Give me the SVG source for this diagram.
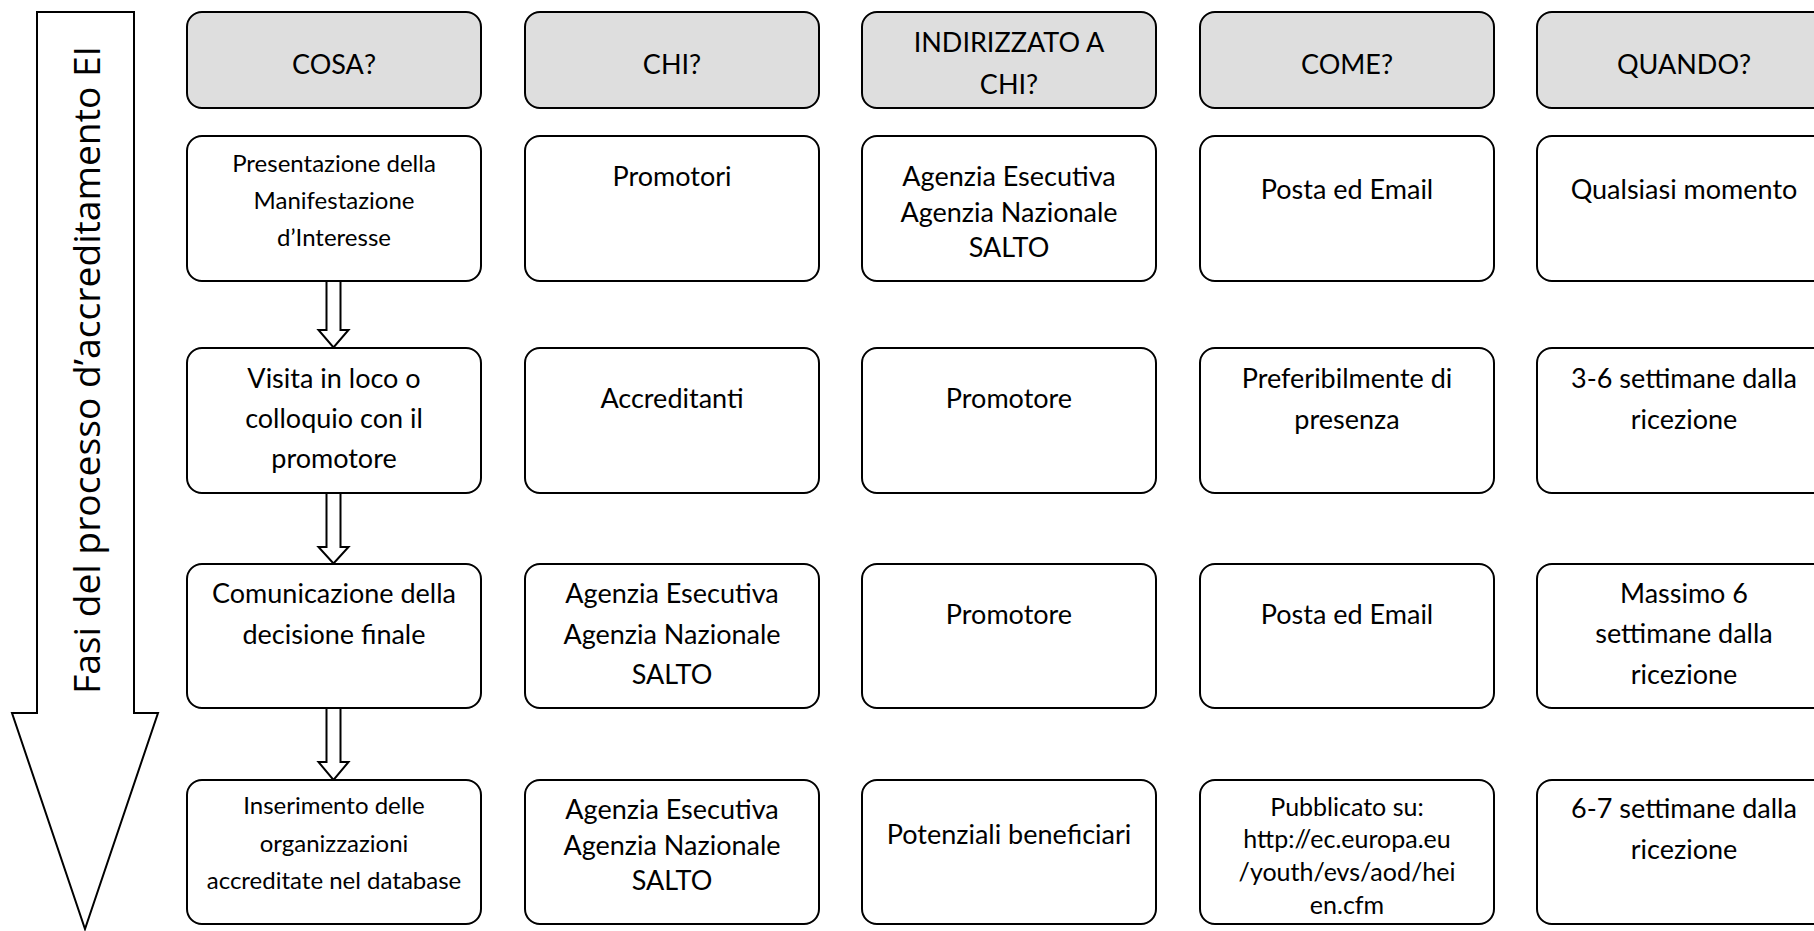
<svg xmlns="http://www.w3.org/2000/svg" width="1814" height="931" viewBox="0 0 1814 931">
<style>
.box{fill:#fff;stroke:#000;stroke-width:2}
.hdr{fill:#dedede;stroke:#000;stroke-width:2}
.t{font-family:Lato,"Open Sans","Liberation Sans",sans-serif;font-size:27px;fill:#000;text-anchor:middle}
.s{font-size:24px}
.u{font-size:25px}
.arr{fill:#fff;stroke:#000;stroke-width:2;stroke-linejoin:miter}
.big{font-family:"Open Sans","Liberation Sans",sans-serif;font-size:37px;fill:#000;text-anchor:middle}
</style>
<rect width="1814" height="931" fill="#fff"/>
<g id="phase-arrow">
<polygon class="arr" points="37,12 134,12 134,713 158,713 85,929 12,713 37,713"/>
<text class="big" transform="translate(100,370) rotate(-90)" textLength="648" lengthAdjust="spacingAndGlyphs">Fasi del processo d’accreditamento EI</text>
</g>
<g id="connectors">
<polygon class="arr" points="326.5,281 340.5,281 340.5,330 348.5,330 333.5,347.5 318.5,330 326.5,330"/>
<polygon class="arr" points="326.5,493 340.5,493 340.5,547 348.5,547 333.5,563.5 318.5,547 326.5,547"/>
<polygon class="arr" points="326.5,708 340.5,708 340.5,762 348.5,762 333.5,780 318.5,762 326.5,762"/>
</g>
<g id="h-cosa"><rect class="hdr" x="187" y="12" width="294" height="96" rx="15"/><text class="t" x="334" y="74">COSA?</text></g>
<g id="h-chi"><rect class="hdr" x="525" y="12" width="294" height="96" rx="15"/><text class="t" x="672" y="74">CHI?</text></g>
<g id="h-indirizzato"><rect class="hdr" x="862" y="12" width="294" height="96" rx="15"/><text class="t" x="1009" y="52">INDIRIZZATO A</text><text class="t" x="1009" y="94">CHI?</text></g>
<g id="h-come"><rect class="hdr" x="1200" y="12" width="294" height="96" rx="15"/><text class="t" x="1347" y="74">COME?</text></g>
<g id="h-quando"><rect class="hdr" x="1537" y="12" width="294" height="96" rx="15"/><text class="t" x="1684" y="74">QUANDO?</text></g>

<g id="r1-cosa"><rect class="box" x="187" y="136" width="294" height="145" rx="15"/><text class="t s" x="334" y="172">Presentazione della</text><text class="t s" x="334" y="209">Manifestazione</text><text class="t s" x="334" y="246">d’Interesse</text></g>
<g id="r1-chi"><rect class="box" x="525" y="136" width="294" height="145" rx="15"/><text class="t" x="672" y="186">Promotori</text></g>
<g id="r1-indirizzato"><rect class="box" x="862" y="136" width="294" height="145" rx="15"/><text class="t" x="1009" y="186">Agenzia Esecutiva</text><text class="t" x="1009" y="222">Agenzia Nazionale</text><text class="t" x="1009" y="257">SALTO</text></g>
<g id="r1-come"><rect class="box" x="1200" y="136" width="294" height="145" rx="15"/><text class="t" x="1347" y="199">Posta ed Email</text></g>
<g id="r1-quando"><rect class="box" x="1537" y="136" width="294" height="145" rx="15"/><text class="t" x="1684" y="199">Qualsiasi momento</text></g>

<g id="r2-cosa"><rect class="box" x="187" y="348" width="294" height="145" rx="15"/><text class="t" x="334" y="388">Visita in loco o</text><text class="t" x="334" y="428">colloquio con il</text><text class="t" x="334" y="468">promotore</text></g>
<g id="r2-chi"><rect class="box" x="525" y="348" width="294" height="145" rx="15"/><text class="t" x="672" y="408">Accreditanti</text></g>
<g id="r2-indirizzato"><rect class="box" x="862" y="348" width="294" height="145" rx="15"/><text class="t" x="1009" y="408">Promotore</text></g>
<g id="r2-come"><rect class="box" x="1200" y="348" width="294" height="145" rx="15"/><text class="t" x="1347" y="388">Preferibilmente di</text><text class="t" x="1347" y="429">presenza</text></g>
<g id="r2-quando"><rect class="box" x="1537" y="348" width="294" height="145" rx="15"/><text class="t" x="1684" y="388">3-6 settimane dalla</text><text class="t" x="1684" y="429">ricezione</text></g>

<g id="r3-cosa"><rect class="box" x="187" y="564" width="294" height="144" rx="15"/><text class="t" x="334" y="603">Comunicazione della</text><text class="t" x="334" y="644">decisione finale</text></g>
<g id="r3-chi"><rect class="box" x="525" y="564" width="294" height="144" rx="15"/><text class="t" x="672" y="603">Agenzia Esecutiva</text><text class="t" x="672" y="644">Agenzia Nazionale</text><text class="t" x="672" y="684">SALTO</text></g>
<g id="r3-indirizzato"><rect class="box" x="862" y="564" width="294" height="144" rx="15"/><text class="t" x="1009" y="624">Promotore</text></g>
<g id="r3-come"><rect class="box" x="1200" y="564" width="294" height="144" rx="15"/><text class="t" x="1347" y="624">Posta ed Email</text></g>
<g id="r3-quando"><rect class="box" x="1537" y="564" width="294" height="144" rx="15"/><text class="t" x="1684" y="603">Massimo 6</text><text class="t" x="1684" y="643">settimane dalla</text><text class="t" x="1684" y="684">ricezione</text></g>

<g id="r4-cosa"><rect class="box" x="187" y="780" width="294" height="144" rx="15"/><text class="t s" x="334" y="814">Inserimento delle</text><text class="t s" x="334" y="852">organizzazioni</text><text class="t s" x="334" y="889">accreditate nel database</text></g>
<g id="r4-chi"><rect class="box" x="525" y="780" width="294" height="144" rx="15"/><text class="t" x="672" y="819">Agenzia Esecutiva</text><text class="t" x="672" y="855">Agenzia Nazionale</text><text class="t" x="672" y="890">SALTO</text></g>
<g id="r4-indirizzato"><rect class="box" x="862" y="780" width="294" height="144" rx="15"/><text class="t" x="1009" y="844">Potenziali beneficiari</text></g>
<g id="r4-come"><rect class="box" x="1200" y="780" width="294" height="144" rx="15"/><text class="t u" x="1347" y="816">Pubblicato su:</text><text class="t u" x="1347" y="848">http://ec.europa.eu</text><text class="t u" x="1347" y="881">/youth/evs/aod/hei</text><text class="t u" x="1347" y="914">en.cfm</text></g>
<g id="r4-quando"><rect class="box" x="1537" y="780" width="294" height="144" rx="15"/><text class="t" x="1684" y="818">6-7 settimane dalla</text><text class="t" x="1684" y="859">ricezione</text></g>
</svg>
